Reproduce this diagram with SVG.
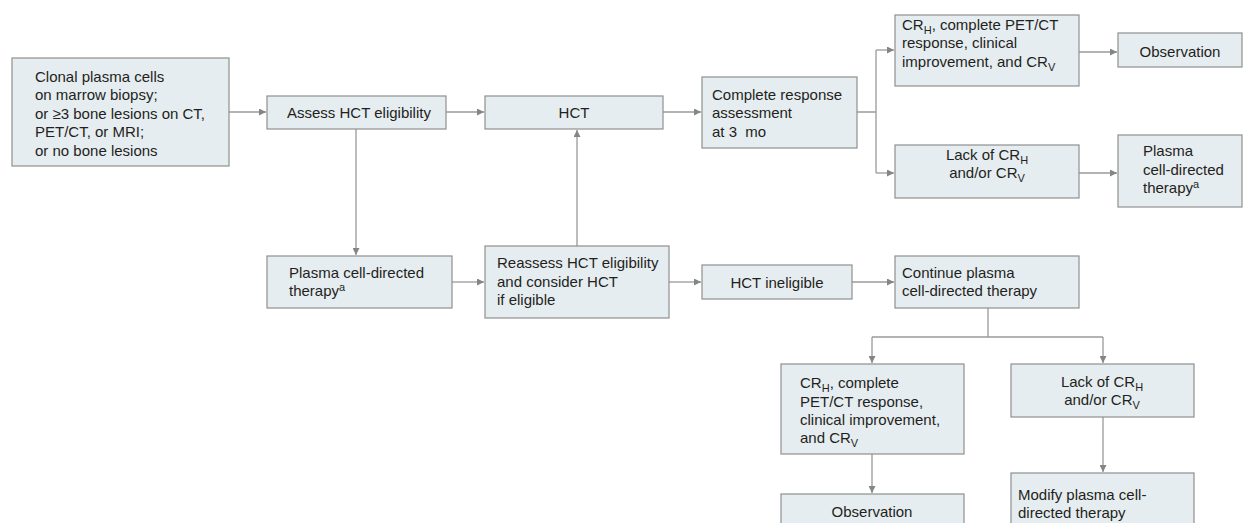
<svg xmlns="http://www.w3.org/2000/svg" width="1243" height="523" viewBox="0 0 1243 523">
<defs>
<marker id="ah" viewBox="0 0 10 10" refX="10" refY="5" markerWidth="8" markerHeight="7" markerUnits="userSpaceOnUse" orient="auto">
<path d="M0,0 L10,5 L0,10 Z" fill="#858585"/>
</marker>
<style>
.box{fill:#e6edf1;stroke:#8f8f8f;stroke-width:1.2}
.t{font-family:"Liberation Sans",Arial,sans-serif;font-size:15px;fill:#231f20}
.c{text-anchor:middle}
.sub{font-size:11px}
.con{fill:none;stroke:#9a9a9a;stroke-width:1.3}
.arr{marker-end:url(#ah)}
</style>
</defs>
<rect width="1243" height="523" fill="#ffffff"/>

<g id="connectors">
<path class="con arr" d="M229,112 H266"/>
<path class="con arr" d="M446,112 H484"/>
<path class="con arr" d="M663,112 H701"/>
<path class="con" d="M857,112 H876 M876,50 V173"/>
<path class="con arr" d="M876,50 H894"/>
<path class="con arr" d="M876,173 H894"/>
<path class="con arr" d="M1079,52 H1117"/>
<path class="con arr" d="M1079,173 H1117"/>
<path class="con arr" d="M356,129 V255"/>
<path class="con arr" d="M452,282 H484"/>
<path class="con arr" d="M577,246 V130"/>
<path class="con arr" d="M669,282 H701"/>
<path class="con arr" d="M852,282 H894"/>
<path class="con" d="M988,308 V337 M872,337 H1103"/>
<path class="con arr" d="M872,337 V363"/>
<path class="con arr" d="M1103,337 V363"/>
<path class="con arr" d="M872,454 V493"/>
<path class="con arr" d="M1103,417 V472"/>
</g>

<g id="n1">
<rect class="box" x="12" y="58" width="217" height="108"/>
<text class="t" x="35" y="82">Clonal plasma cells</text>
<text class="t" x="35" y="100">on marrow biopsy;</text>
<text class="t" x="35" y="119">or ≥3 bone lesions on CT,</text>
<text class="t" x="35" y="137">PET/CT, or MRI;</text>
<text class="t" x="35" y="156">or no bone lesions</text>
</g>

<g id="n2">
<rect class="box" x="267" y="96" width="179" height="33"/>
<text class="t" x="287" y="118">Assess HCT eligibility</text>
</g>

<g id="n3">
<rect class="box" x="485" y="96" width="178" height="33"/>
<text class="t c" x="574" y="118">HCT</text>
</g>

<g id="n4">
<rect class="box" x="702" y="77" width="155" height="71"/>
<text class="t" x="712" y="100">Complete response</text>
<text class="t" x="712" y="118">assessment</text>
<text class="t" x="712" y="137">at 3&#160;&#160;mo</text>
</g>

<g id="n5">
<rect class="box" x="895" y="15" width="184" height="71"/>
<text class="t" x="902" y="30">CR<tspan class="sub" dy="4">H</tspan><tspan dy="-4">, complete PET/CT</tspan></text>
<text class="t" x="902" y="48">response, clinical</text>
<text class="t" x="902" y="67">improvement, and CR<tspan class="sub" dy="4">V</tspan></text>
</g>

<g id="n6">
<rect class="box" x="1118" y="33" width="124" height="34"/>
<text class="t c" x="1180" y="57">Observation</text>
</g>

<g id="n7">
<rect class="box" x="895" y="145" width="184" height="53"/>
<text class="t c" x="987" y="160">Lack of CR<tspan class="sub" dy="4">H</tspan></text>
<text class="t c" x="987" y="178">and/or CR<tspan class="sub" dy="4">V</tspan></text>
</g>

<g id="n8">
<rect class="box" x="1118" y="135" width="124" height="72"/>
<text class="t" x="1143" y="156">Plasma</text>
<text class="t" x="1143" y="175">cell-directed</text>
<text class="t" x="1143" y="193">therapy<tspan class="sub" dy="-5">a</tspan></text>
</g>

<g id="n9">
<rect class="box" x="267" y="256" width="185" height="52"/>
<text class="t" x="289" y="278">Plasma cell-directed</text>
<text class="t" x="289" y="296">therapy<tspan class="sub" dy="-5">a</tspan></text>
</g>

<g id="n10">
<rect class="box" x="485" y="246" width="184" height="72"/>
<text class="t" x="497" y="268">Reassess HCT eligibility</text>
<text class="t" x="497" y="287">and consider HCT</text>
<text class="t" x="497" y="305">if eligible</text>
</g>

<g id="n11">
<rect class="box" x="702" y="265" width="150" height="34"/>
<text class="t c" x="777" y="288">HCT ineligible</text>
</g>

<g id="n12">
<rect class="box" x="895" y="256" width="184" height="52"/>
<text class="t" x="902" y="278">Continue plasma</text>
<text class="t" x="902" y="296">cell-directed therapy</text>
</g>

<g id="n13">
<rect class="box" x="781" y="364" width="183" height="90"/>
<text class="t" x="800" y="388">CR<tspan class="sub" dy="4">H</tspan><tspan dy="-4">, complete</tspan></text>
<text class="t" x="800" y="407">PET/CT response,</text>
<text class="t" x="800" y="425">clinical improvement,</text>
<text class="t" x="800" y="443">and CR<tspan class="sub" dy="4">V</tspan></text>
</g>

<g id="n14">
<rect class="box" x="1011" y="364" width="183" height="53"/>
<text class="t c" x="1102" y="387">Lack of CR<tspan class="sub" dy="4">H</tspan></text>
<text class="t c" x="1102" y="405">and/or CR<tspan class="sub" dy="4">V</tspan></text>
</g>

<g id="n15">
<rect class="box" x="781" y="494" width="183" height="40"/>
<text class="t c" x="872" y="517">Observation</text>
</g>

<g id="n16">
<rect class="box" x="1011" y="473" width="183" height="60"/>
<text class="t" x="1018" y="500">Modify plasma cell-</text>
<text class="t" x="1018" y="518">directed therapy</text>
</g>
</svg>
